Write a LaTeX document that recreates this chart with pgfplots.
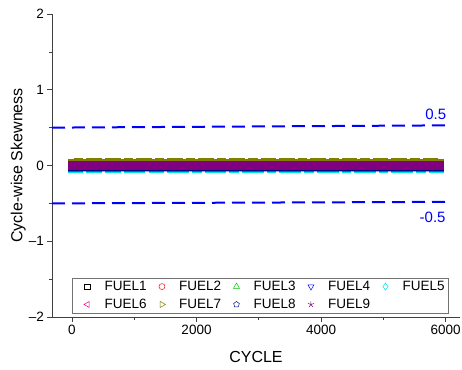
\documentclass[border=0pt]{standalone}
\usepackage{pgfplots}
\pgfplotsset{compat=1.18}
\usepackage{pgfplotstable}
\usetikzlibrary{plotmarks}
\usepackage{fontspec}
\setmainfont{Liberation Sans}
\definecolor{fgreen}{RGB}{0,200,0}
\definecolor{folive}{RGB}{128,128,0}
\definecolor{fnavy}{RGB}{0,0,128}
\definecolor{fpurple}{RGB}{128,0,128}
\definecolor{fcyan}{RGB}{0,230,230}
\pgfplotstableread{
x f1 f2 f3 f4 f5 f6 f7 f8 f9
0 0.003 0.006 0.024 -0.019 -0.027 -0.014 0.034 -0.007 0.004
100 -0.002 0.004 0.027 -0.022 -0.029 -0.016 0.036 -0.009 0.003
200 0.001 0.007 0.025 -0.018 -0.026 -0.013 0.033 -0.006 0.005
300 0.004 0.005 0.023 -0.021 -0.030 -0.017 0.037 -0.008 0.002
400 -0.001 0.003 0.026 -0.020 -0.028 -0.015 0.035 -0.010 0.006
500 0.002 0.006 0.028 -0.017 -0.025 -0.012 0.034 -0.005 0.004
600 0.000 0.005 0.024 -0.019 -0.027 -0.016 0.036 -0.007 0.003
700 0.003 0.004 0.026 -0.021 -0.029 -0.014 0.035 -0.008 0.005
800 -0.002 0.007 0.025 -0.018 -0.026 -0.013 0.033 -0.006 0.004
900 0.001 0.006 0.027 -0.020 -0.028 -0.015 0.037 -0.009 0.002
1000 0.004 0.003 0.023 -0.022 -0.030 -0.017 0.034 -0.007 0.006
1100 -0.001 0.005 0.026 -0.019 -0.027 -0.014 0.036 -0.008 0.003
1200 0.002 0.006 0.024 -0.017 -0.025 -0.012 0.035 -0.005 0.004
1300 0.000 0.004 0.028 -0.021 -0.029 -0.016 0.033 -0.010 0.005
1400 0.003 0.007 0.025 -0.020 -0.028 -0.015 0.036 -0.007 0.003
1500 -0.002 0.005 0.026 -0.018 -0.026 -0.013 0.034 -0.006 0.004
1600 0.001 0.003 0.024 -0.022 -0.030 -0.017 0.037 -0.009 0.002
1700 0.004 0.006 0.027 -0.019 -0.027 -0.014 0.035 -0.008 0.006
1800 -0.001 0.004 0.023 -0.021 -0.029 -0.016 0.033 -0.007 0.004
1900 0.002 0.007 0.026 -0.017 -0.025 -0.012 0.036 -0.005 0.003
2000 0.000 0.005 0.025 -0.020 -0.028 -0.015 0.034 -0.010 0.005
2100 0.003 0.006 0.028 -0.018 -0.026 -0.013 0.035 -0.006 0.004
2200 -0.002 0.003 0.024 -0.022 -0.030 -0.017 0.037 -0.009 0.002
2300 0.001 0.005 0.026 -0.019 -0.027 -0.014 0.033 -0.007 0.006
2400 0.004 0.007 0.025 -0.021 -0.029 -0.016 0.036 -0.008 0.003
2500 -0.001 0.004 0.027 -0.017 -0.025 -0.012 0.034 -0.005 0.004
2600 0.002 0.006 0.023 -0.020 -0.028 -0.015 0.035 -0.010 0.005
2700 0.000 0.005 0.026 -0.018 -0.026 -0.013 0.037 -0.006 0.003
2800 0.003 0.003 0.024 -0.022 -0.030 -0.017 0.034 -0.009 0.004
2900 -0.002 0.007 0.028 -0.019 -0.027 -0.014 0.036 -0.007 0.002
3000 0.001 0.006 0.025 -0.021 -0.029 -0.016 0.033 -0.008 0.006
3100 0.004 0.004 0.026 -0.017 -0.025 -0.012 0.035 -0.005 0.004
3200 -0.001 0.005 0.024 -0.020 -0.028 -0.015 0.037 -0.010 0.003
3300 0.002 0.007 0.027 -0.018 -0.026 -0.013 0.034 -0.006 0.005
3400 0.000 0.003 0.023 -0.022 -0.030 -0.017 0.036 -0.009 0.004
3500 0.003 0.006 0.026 -0.019 -0.027 -0.014 0.035 -0.007 0.002
3600 -0.002 0.005 0.025 -0.021 -0.029 -0.016 0.033 -0.008 0.006
3700 0.001 0.004 0.028 -0.017 -0.025 -0.012 0.036 -0.005 0.003
3800 0.004 0.007 0.024 -0.020 -0.028 -0.015 0.034 -0.010 0.004
3900 -0.001 0.006 0.026 -0.018 -0.026 -0.013 0.037 -0.006 0.005
4000 0.002 0.003 0.025 -0.022 -0.030 -0.017 0.035 -0.009 0.003
4100 0.000 0.005 0.027 -0.019 -0.027 -0.014 0.033 -0.007 0.004
4200 0.003 0.007 0.023 -0.021 -0.029 -0.016 0.036 -0.008 0.002
4300 -0.002 0.004 0.026 -0.017 -0.025 -0.012 0.034 -0.005 0.006
4400 0.001 0.006 0.024 -0.020 -0.028 -0.015 0.035 -0.010 0.004
4500 0.004 0.005 0.028 -0.018 -0.026 -0.013 0.037 -0.006 0.003
4600 -0.001 0.003 0.025 -0.022 -0.030 -0.017 0.034 -0.009 0.005
4700 0.002 0.007 0.026 -0.019 -0.027 -0.014 0.036 -0.007 0.004
4800 0.000 0.006 0.024 -0.021 -0.029 -0.016 0.033 -0.008 0.002
4900 0.003 0.004 0.027 -0.017 -0.025 -0.012 0.035 -0.005 0.006
5000 -0.002 0.005 0.023 -0.020 -0.028 -0.015 0.037 -0.010 0.003
5100 0.001 0.007 0.026 -0.018 -0.026 -0.013 0.034 -0.006 0.004
5200 0.004 0.003 0.025 -0.022 -0.030 -0.017 0.036 -0.009 0.005
5300 -0.001 0.006 0.028 -0.019 -0.027 -0.014 0.035 -0.007 0.003
5400 0.002 0.005 0.024 -0.021 -0.029 -0.016 0.033 -0.008 0.004
5500 0.000 0.004 0.026 -0.017 -0.025 -0.012 0.036 -0.005 0.002
5600 0.003 0.007 0.025 -0.020 -0.028 -0.015 0.034 -0.010 0.006
5700 -0.002 0.006 0.027 -0.018 -0.026 -0.013 0.037 -0.006 0.004
5800 0.001 0.003 0.023 -0.022 -0.030 -0.017 0.035 -0.009 0.003
5890 0.002 0.005 0.026 -0.019 -0.027 -0.014 0.034 -0.007 0.005
}\datatable
\begin{document}
\begin{tikzpicture}
\begin{axis}[
  name=ax,
  scale only axis,
  width=408bp, height=303bp,
  xmin=-320, xmax=6230,
  ymin=-2, ymax=2,
  axis x line*=bottom,
  axis y line*=left,
  axis line style={draw=black!75, line width=0.8pt},
  tick align=outside,
  tick style={draw=black!75, line width=0.7pt},
  major tick length=4.5bp,
  minor tick length=3bp,
  xtick={0,2000,4000,6000},
  minor xtick={1000,3000,5000},
  ytick={-2,-1,0,1,2},
  yticklabels={--2,--1,0,1,2},
  minor ytick={-1.5,-0.5,0.5,1.5},
  scaled x ticks=false,
  /pgf/number format/assume math mode=true,
  /pgf/number format/set thousands separator={},
  tick label style={font=\fontsize{13.5bp}{16bp}\selectfont},
  xlabel={CYCLE},
  ylabel={Cycle-wise Skewness},
  label style={font=\fontsize{16bp}{19bp}\selectfont},
  xlabel style={at={(axis description cs:0.5,-0.132)}, anchor=center},
  ylabel style={at={(axis description cs:-0.083,0.5)}, anchor=center},
  legend columns=5,
  legend cell align=left,
  legend image code/.code={\path (-13bp,0bp) (4bp,0bp);\draw[#1] plot coordinates {(0bp,0bp)};},
  legend style={
    at={(axis cs:0,-1.95)}, anchor=south west,
    draw=black!55, line width=0.6pt,
    font=\fontsize{13.5bp}{15bp}\selectfont,
    inner xsep=2bp, inner ysep=1bp,
    row sep=3bp,
    /tikz/every odd column/.append style={column sep=11bp},
    /tikz/every even column/.append style={column sep=0bp},
  },
  clip=false,
]
% legend entries
\addlegendimage{only marks, mark=square, mark size=2.8bp, black, line width=0.5pt}
\addlegendentry{FUEL1}
\addlegendimage{only marks, mark=o, mark size=3bp, red, line width=0.5pt}
\addlegendentry{FUEL2}
\addlegendimage{only marks, mark=triangle, mark size=3.5bp, fgreen, line width=0.5pt}
\addlegendentry{FUEL3}
\addlegendimage{only marks, mark=triangle, mark size=3.5bp, mark options={rotate=180}, blue, line width=0.5pt}
\addlegendentry{FUEL4}
\addlegendimage{only marks, mark=diamond, mark size=3.5bp, fcyan, line width=0.5pt}
\addlegendentry{FUEL5}
\addlegendimage{only marks, mark=triangle, mark size=3.5bp, mark options={rotate=90}, magenta, line width=0.5pt}
\addlegendentry{FUEL6}
\addlegendimage{only marks, mark=triangle, mark size=3.5bp, mark options={rotate=-90}, folive, line width=0.5pt}
\addlegendentry{FUEL7}
\addlegendimage{only marks, mark=pentagon, mark size=3bp, fnavy, line width=0.5pt}
\addlegendentry{FUEL8}
\addlegendimage{only marks, mark=star, mark size=3.2bp, fpurple, line width=0.5pt}
\addlegendentry{FUEL9}
% data
\addplot[forget plot, only marks, mark=square*, mark size=4.2bp, black] table[x=x,y=f1] {\datatable};
\addplot[forget plot, only marks, mark=square*, mark size=4.2bp, red] table[x=x,y=f2] {\datatable};
\addplot[forget plot, only marks, mark=square*, mark size=4.2bp, fgreen] table[x=x,y=f3] {\datatable};
\addplot[forget plot, only marks, mark=square*, mark size=4.2bp, blue] table[x=x,y=f4] {\datatable};
\addplot[forget plot, only marks, mark=square*, mark size=4.2bp, fcyan] table[x=x,y=f5] {\datatable};
\addplot[forget plot, only marks, mark=square*, mark size=4.2bp, magenta] table[x=x,y=f6] {\datatable};
\addplot[forget plot, only marks, mark=square*, mark size=4.2bp, folive] table[x=x,y=f7] {\datatable};
\addplot[forget plot, only marks, mark=square*, mark size=4.2bp, fnavy] table[x=x,y=f8] {\datatable};
\addplot[forget plot, only marks, mark=square*, mark size=4.2bp, fpurple] table[x=x,y=f9] {\datatable};
% limit lines
\addplot[forget plot, blue, line width=2bp, dash pattern=on 13bp off 7bp] coordinates {(-320,0.5) (6030,0.53)};
\addplot[forget plot, blue, line width=2bp, dash pattern=on 13bp off 7bp] coordinates {(-320,-0.5) (6030,-0.48)};
\node[blue, font=\fontsize{15bp}{17bp}\selectfont] at (axis cs:5840,0.68) {0.5};
\node[blue, font=\fontsize{15bp}{17bp}\selectfont] at (axis cs:5790,-0.68) {-0.5};
\end{axis}
\pgfresetboundingbox
\path[use as bounding box] ([shift={(-52bp,-53bp)}]ax.south west) rectangle ([shift={(410bp,317bp)}]ax.south west);
\end{tikzpicture}
\end{document}
